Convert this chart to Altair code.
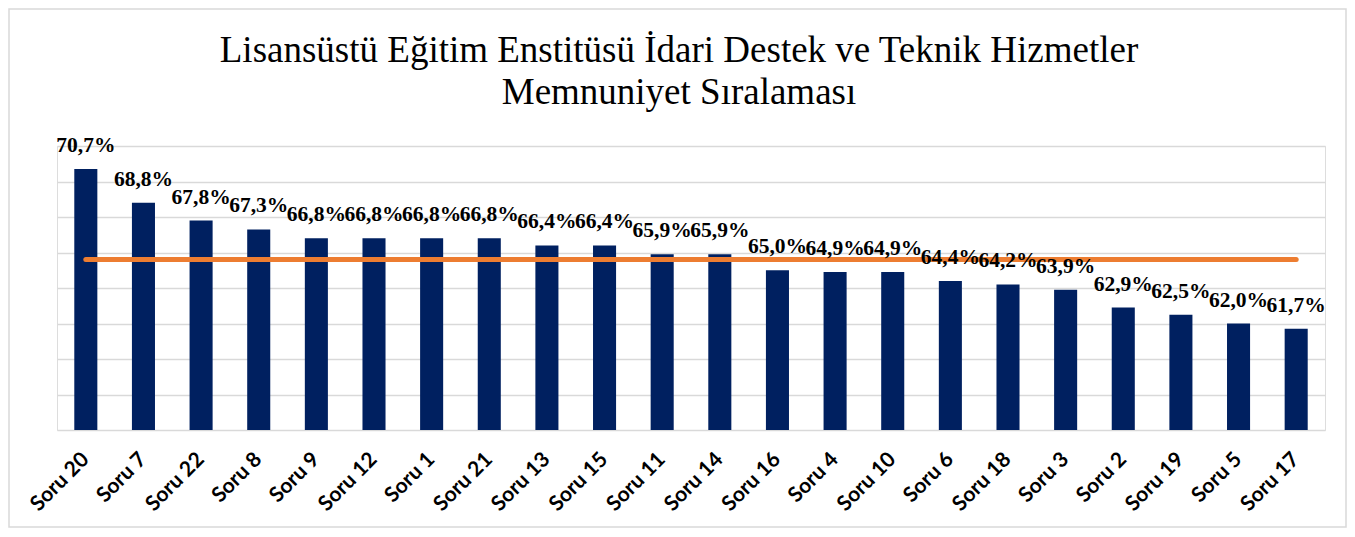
import altair as alt
import pandas as pd

categories = ["Soru 20", "Soru 7", "Soru 22", "Soru 8", "Soru 9", "Soru 12", "Soru 1",
              "Soru 21", "Soru 13", "Soru 15", "Soru 11", "Soru 14", "Soru 16", "Soru 4",
              "Soru 10", "Soru 6", "Soru 18", "Soru 3", "Soru 2", "Soru 19", "Soru 5", "Soru 17"]
values = [70.7, 68.8, 67.8, 67.3, 66.8, 66.8, 66.8, 66.8, 66.4, 66.4, 65.9, 65.9,
          65.0, 64.9, 64.9, 64.4, 64.2, 63.9, 62.9, 62.5, 62.0, 61.7]
average_value = 65.6
y_ticks = [56, 58, 60, 62, 64, 66, 68, 70, 72]
title_line_1 = "Lisansüstü Eğitim Enstitüsü İdari Destek ve Teknik Hizmetler"
title_line_2 = "Memnuniyet Sıralaması"

df = pd.DataFrame({
    "cat": categories,
    "val": values,
    "avg": [average_value] * len(categories),
    "label": [f"{v:.1f}%".replace(".", ",") for v in values],
})

x_enc = alt.X(
    "cat:N", sort=categories,
    scale=alt.Scale(paddingInner=0.6, paddingOuter=0.3),
    axis=alt.Axis(title=None, labelAngle=-45, labelAlign="right", labelBaseline="middle",
                  labelFont="Lato", labelFontWeight="bold", labelFontSize=21,
                  labelColor="#000000", ticks=False, domain=False, labelPadding=26),
)
y_scale = alt.Scale(domain=[y_ticks[0], y_ticks[-1]], nice=False, zero=False)
y_axis = alt.Axis(title=None, values=y_ticks, labels=False, ticks=False, domain=False,
                  grid=True, gridColor="#D9D9D9", gridWidth=1.5)

base = alt.Chart(df)
bars = base.mark_bar(color="#002060").encode(
    x=x_enc, y=alt.Y("val:Q", scale=y_scale, axis=y_axis), y2=alt.Y2(datum=y_ticks[0]))
avg_line = base.mark_line(color="#ED7D31", strokeWidth=5, strokeCap="round").encode(
    x=x_enc, y=alt.Y("avg:Q", scale=y_scale, axis=y_axis))
labels = base.mark_text(font="Liberation Serif", fontWeight="bold", fontSize=21.5,
                        baseline="alphabetic", dy=-17, color="#000000").encode(
    x=x_enc, y=alt.Y("val:Q", scale=y_scale, axis=y_axis), text="label:N")

one_row = pd.DataFrame({"a": [0]})
border = alt.Chart(one_row).mark_rect(
    fillOpacity=0, stroke="#D9D9D9", strokeWidth=1.5).encode(
    x=alt.value(-48), x2=alt.value(1289), y=alt.value(-137), y2=alt.value(381))

title_style = dict(font="Liberation Serif", fontSize=37, fontWeight="normal",
                   color="#000000", align="center", baseline="alphabetic")
title1 = alt.Chart(one_row).mark_text(text=title_line_1, **title_style).encode(
    x=alt.value(622), y=alt.value(-84))
title2 = alt.Chart(one_row).mark_text(text=title_line_2, **title_style).encode(
    x=alt.value(622), y=alt.value(-42))

chart = alt.layer(border, bars, avg_line, labels, title1, title2).properties(
    width=1268, height=284,
    autosize=alt.AutoSizeParams(type="none"),
    padding={"left": 49, "top": 138, "right": 22, "bottom": 99},
).configure_view(strokeWidth=0).configure(background="#FFFFFF")

chart.save("out.html", embed_options={"renderer": "svg", "actions": False})
